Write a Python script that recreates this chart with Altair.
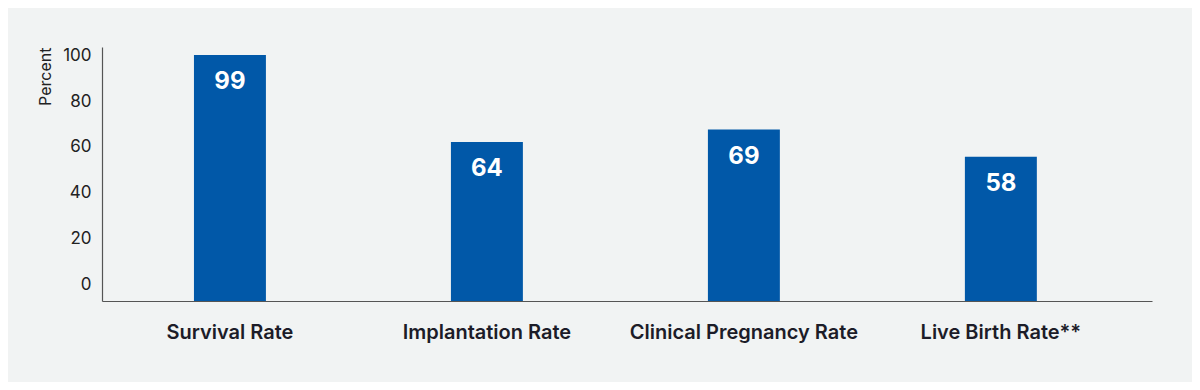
import altair as alt
import pandas as pd

categories = ["Survival Rate", "Implantation Rate", "Clinical Pregnancy Rate", "Live Birth Rate**"]
values = [99, 64, 69, 58]
tick_values = [0, 20, 40, 60, 80, 100]

bars_df = pd.DataFrame({"category": categories, "value": values})
ticks_df = pd.DataFrame({"tick": tick_values})

FONT = "Inter"
BAR_COLOR = "#0158A8"
BG = "#F1F3F3"

x_enc = alt.X(
    "category:N",
    sort=categories,
    title=None,
    scale=alt.Scale(paddingInner=0.72, paddingOuter=0.403, align=0.444),
    axis=alt.Axis(
        labelAngle=0,
        labelFont=FONT,
        labelFontSize=20,
        labelFontWeight=600,
        labelColor="#1c1c28",
        labelPadding=21,
        labelLimit=0,
        ticks=False,
        domain=True,
        domainColor="#555555",
        domainWidth=1.2,
        grid=False,
    ),
)

y_bar = alt.Y(
    "value:Q",
    scale=alt.Scale(domain=[0, 102.2], nice=False, zero=True),
    axis=None,
)

bars = alt.Chart(bars_df).mark_bar(color=BAR_COLOR).encode(x=x_enc, y=y_bar)

labels = alt.Chart(bars_df).mark_text(
    color="white", font=FONT, fontSize=24, fontWeight="bold", baseline="middle", dy=27
).encode(x=alt.X("category:N", sort=categories), y=y_bar, text=alt.Text("value:Q"))

axis_layer = alt.Chart(ticks_df).mark_point(opacity=0).encode(
    y=alt.Y(
        "tick:Q",
        scale=alt.Scale(domain=[-6.96, 103.48], nice=False, zero=False),
        axis=alt.Axis(
            orient="left",
            values=tick_values,
            title="Percent",
            titleFont=FONT,
            titleFontSize=16,
            titleFontWeight="normal",
            titleColor="#222222",
            titleAngle=-90,
            titleX=-57,
            titleY=0,
            titleAlign="right",
            titleBaseline="middle",
            labelFont=FONT,
            labelFontSize=17,
            labelColor="#222222",
            labelPadding=11,
            ticks=False,
            domain=True,
            domainColor="#555555",
            domainWidth=1.2,
            grid=False,
        ),
    )
)

chart = (
    alt.layer(bars, labels, axis_layer)
    .resolve_scale(y="independent")
    .properties(
        width=1050,
        height=254,
        background=BG,
        padding={"left": 94, "top": 39, "right": 40, "bottom": 81},
        autosize=alt.AutoSizeParams(type="none"),
    )
    .configure_view(stroke=None)
)

chart.save("out.html", embed_options={"renderer": "svg", "actions": False})
